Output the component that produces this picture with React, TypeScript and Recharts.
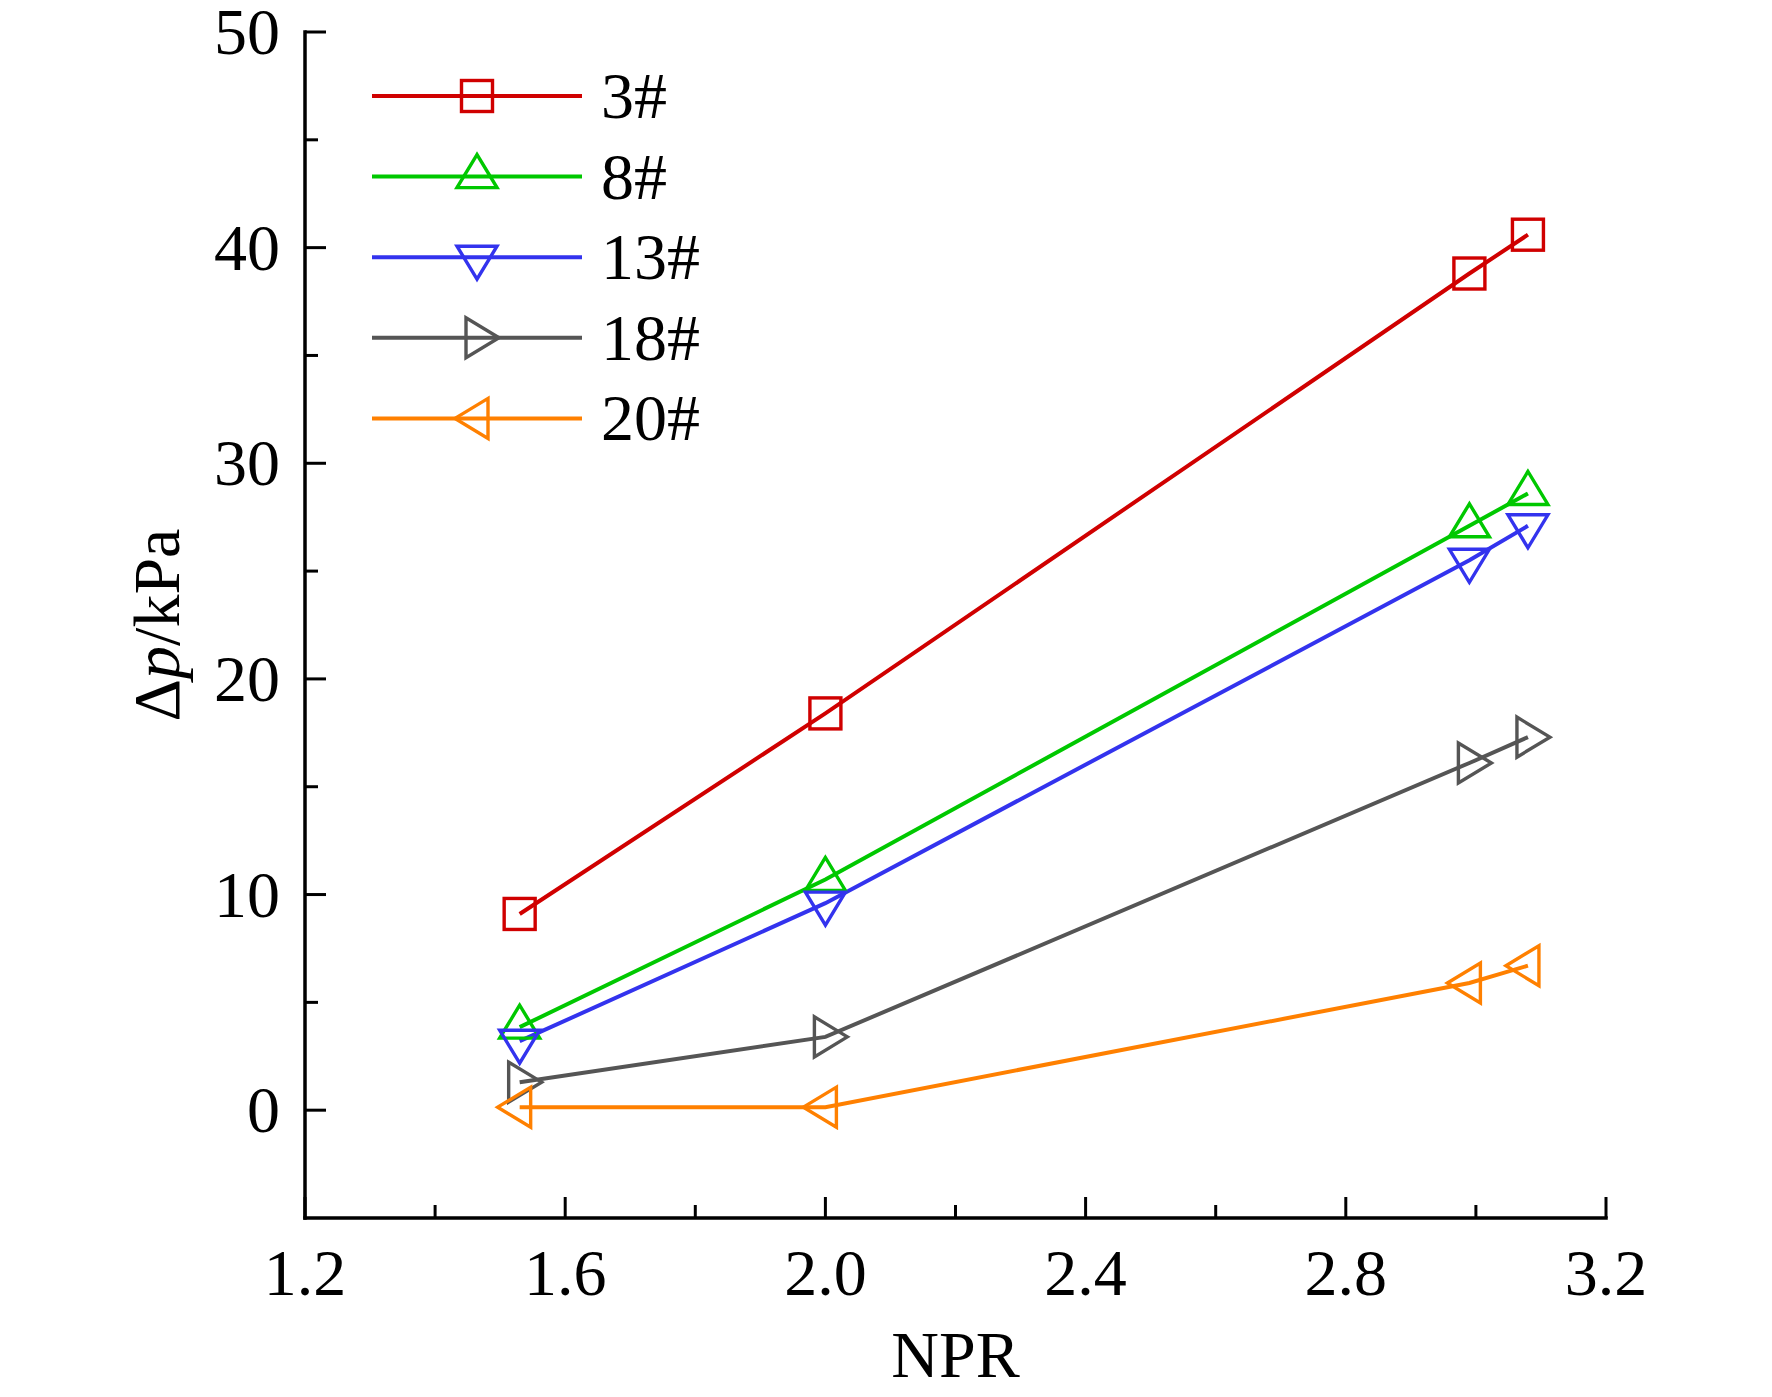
import React from 'react';
import { LineChart, Line, XAxis, YAxis, Legend } from 'recharts';

// ---- data ----
const npr = [1.53, 2.0, 2.99, 3.08];
const dp3 = [9.1, 18.4, 38.8, 40.6];
const dp8 = [3.85, 10.7, 27.1, 28.6];
const dp13 = [3.2, 9.6, 25.5, 27.1];
const dp18 = [1.3, 3.4, 16.1, 17.3];
const dp20 = [0.14, 0.14, 5.9, 6.7];

const seriesNames = ['3#', '8#', '13#', '18#', '20#'];
const seriesValues = [dp3, dp8, dp13, dp18, dp20];
const seriesColors = ['#D00000', '#00C800', '#3333EE', '#555555', '#FF8000'];
const seriesShapes = ['square', 'up', 'down', 'right', 'left'];

const xTicks = [1.2, 1.4, 1.6, 1.8, 2.0, 2.2, 2.4, 2.6, 2.8, 3.0, 3.2];
const xMajorTicks = [1.2, 1.6, 2.0, 2.4, 2.8, 3.2];
const yTicks = [0, 5, 10, 15, 20, 25, 30, 35, 40, 45, 50];
const yMajorTicks = [0, 10, 20, 30, 40, 50];

const FONT = '"Liberation Serif", "Times New Roman", serif';
const FS = 66;

const isIn = (arr: number[], v: number) => arr.some((a) => Math.abs(a - v) < 1e-6);

function Marker({ shape, cx, cy, color }: { shape: string; cx: number; cy: number; color: string }) {
  const common = { fill: 'none', stroke: color, strokeWidth: 3.4 };
  switch (shape) {
    case 'square':
      return <rect x={cx - 15.5} y={cy - 15.5} width={31} height={31} {...common} />;
    case 'up':
      return <polygon points={`${cx},${cy - 22} ${cx - 20},${cy + 11} ${cx + 20},${cy + 11}`} {...common} />;
    case 'down':
      return <polygon points={`${cx},${cy + 22} ${cx - 20},${cy - 11} ${cx + 20},${cy - 11}`} {...common} />;
    case 'right':
      return <polygon points={`${cx + 22},${cy} ${cx - 11},${cy - 20} ${cx - 11},${cy + 20}`} {...common} />;
    case 'left':
      return <polygon points={`${cx - 22},${cy} ${cx + 11},${cy - 20} ${cx + 11},${cy + 20}`} {...common} />;
    default:
      return null;
  }
}

const XTick = (props: any) => {
  const { x, y, payload } = props;
  const v = payload.value as number;
  const major = isIn(xMajorTicks, v);
  return (
    <g>
      <line x1={x} x2={x} y1={y} y2={y - (major ? 21 : 13)} stroke="#000" strokeWidth={3} />
      {major && (
        <text x={x} y={y + 77} textAnchor="middle" fontSize={FS} fontFamily={FONT} fill="#000">
          {v.toFixed(1)}
        </text>
      )}
    </g>
  );
};

const YTick = (props: any) => {
  const { x, y, payload } = props;
  const v = payload.value as number;
  const major = isIn(yMajorTicks, v);
  return (
    <g>
      <line x1={x} x2={x + (major ? 21 : 13)} y1={y} y2={y} stroke="#000" strokeWidth={3} />
      {major && (
        <text x={x - 25} y={y + 22} textAnchor="end" fontSize={FS} fontFamily={FONT} fill="#000">
          {String(v)}
        </text>
      )}
    </g>
  );
};

const XTitle = (props: any) => {
  const vb = props.viewBox || { x: 305, y: 1218, width: 1301, height: 100 };
  return (
    <text x={vb.x + vb.width / 2} y={vb.y + 159} textAnchor="middle" fontSize={FS} fontFamily={FONT} fill="#000">
      NPR
    </text>
  );
};

const YTitle = (props: any) => {
  const vb = props.viewBox || { x: 205, y: 32, width: 100, height: 1186 };
  const cx = vb.x - 26;
  const cy = vb.y + vb.height / 2;
  return (
    <text
      x={cx}
      y={cy}
      transform={`rotate(-90, ${cx}, ${cy})`}
      textAnchor="middle"
      fontSize={FS}
      fontFamily={FONT}
      fill="#000"
    >
      <tspan>Δ</tspan>
      <tspan fontStyle="italic">p</tspan>
      <tspan>/kPa</tspan>
    </text>
  );
};

const LegendContent = () => {
  const rowGap = 80.6;
  return (
    <svg width={320} height={420} style={{ display: 'block', overflow: 'visible' }}>
      {seriesNames.map((name, i) => {
        const cy = 46 + i * rowGap;
        return (
          <g key={name}>
            <line x1={15} x2={225} y1={cy} y2={cy} stroke={seriesColors[i]} strokeWidth={4} />
            <Marker shape={seriesShapes[i]} cx={120} cy={cy} color={seriesColors[i]} />
            <text x={244} y={cy + 22} fontSize={FS} fontFamily={FONT} fill="#000">
              {name}
            </text>
          </g>
        );
      })}
    </svg>
  );
};

export default function App() {
  const seriesData = seriesValues.map((vals) => npr.map((x, i) => ({ x, y: vals[i] })));
  return (
    <div style={{ position: 'absolute', left: 0, top: 0, width: 1772, height: 1397, background: '#fff' }}>
      <LineChart width={1772} height={1397} margin={{ top: 32, right: 166, bottom: 79, left: 205 }}>
        <XAxis
          type="number"
          dataKey="x"
          domain={[1.2, 3.2]}
          ticks={xTicks}
          interval={0}
          allowDataOverflow
          height={100}
          tickSize={0}
          tickMargin={0}
          tickLine={false}
          tick={<XTick />}
          axisLine={{ stroke: '#000', strokeWidth: 3.5, strokeLinecap: 'square' }}
          label={{ content: <XTitle /> }}
        />
        <YAxis
          type="number"
          domain={[-5, 50]}
          ticks={yTicks}
          interval={0}
          allowDataOverflow
          width={100}
          tickSize={0}
          tickMargin={0}
          tickLine={false}
          tick={<YTick />}
          axisLine={{ stroke: '#000', strokeWidth: 3.5, strokeLinecap: 'square' }}
          label={{ content: <YTitle /> }}
        />
        <Legend
          layout="vertical"
          align="center"
          verticalAlign="middle"
          content={<LegendContent />}
          wrapperStyle={{ left: 357, top: 50, width: 320, height: 420 }}
        />
        {seriesNames.map((name, si) => (
          <Line
            key={name}
            name={name}
            data={seriesData[si]}
            dataKey="y"
            type="linear"
            stroke={seriesColors[si]}
            strokeWidth={4}
            isAnimationActive={false}
            activeDot={false}
            dot={(p: any) => (
              <Marker
                key={`${name}-${p.index}`}
                shape={seriesShapes[si]}
                cx={p.cx}
                cy={p.cy}
                color={seriesColors[si]}
              />
            )}
          />
        ))}
      </LineChart>
    </div>
  );
}
